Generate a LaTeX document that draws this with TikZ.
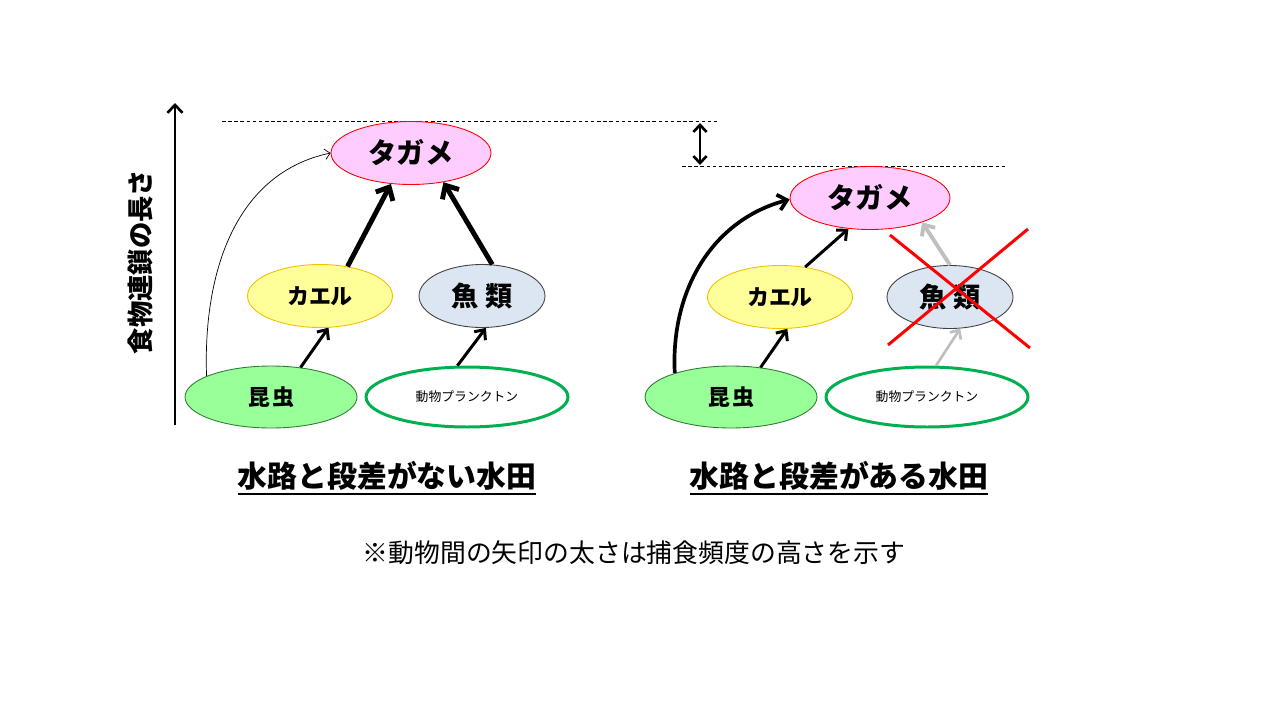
\documentclass[tikz,border=0pt]{standalone}
\usepackage{fontspec}
\setmainfont{Noto Sans CJK JP}
\usetikzlibrary{shapes.geometric,arrows.meta}
\definecolor{tpink}{HTML}{FFCCFF}
\definecolor{tred}{HTML}{FF0000}
\definecolor{kyel}{HTML}{FFFF99}
\definecolor{kedge}{HTML}{F0C000}
\definecolor{fblue}{HTML}{DCE6F2}
\definecolor{fedge}{HTML}{404040}
\definecolor{igreen}{HTML}{99FF99}
\definecolor{iedge}{HTML}{2E7D32}
\definecolor{pgreen}{HTML}{00B050}
\definecolor{ggray}{HTML}{BFBFBF}
\newcommand\thickul[1]{\setbox0\hbox{#1}\rlap{\raisebox{-4.5pt}{\rule{\wd0}{1.1pt}}}\box0}
\tikzset{
  base/.style={ellipse,inner sep=0pt,minimum height=1.26cm},
  tagame/.style={base,fill=tpink,draw=tred,line width=0.5pt,minimum width=3.2cm,font=\fontsize{16}{18}\selectfont\bfseries},
  kaeru/.style={base,fill=kyel,draw=kedge,line width=0.5pt,minimum width=2.9cm,font=\fontsize{12.5}{14}\selectfont\bfseries},
  fish/.style={base,fill=fblue,draw=fedge,line width=0.5pt,minimum width=2.52cm,font=\fontsize{15.5}{17}\selectfont\bfseries},
  insect/.style={base,fill=igreen,draw=iedge,line width=0.5pt,minimum width=3.44cm,minimum height=1.24cm,font=\fontsize{12.5}{14}\selectfont\bfseries},
  plankton/.style={base,fill=white,draw=pgreen,line width=1.7pt,minimum width=4.04cm,minimum height=1.2cm,font=\fontsize{7.3}{8}\selectfont},
  thickarr/.style={line width=2.8pt,-{Straight Barb[length=6pt,width=11pt]}},
  medarr/.style={line width=1.7pt,-{Straight Barb[length=4.5pt,width=8pt]}},
  grayarr/.style={draw=ggray,line width=2.2pt,-{Straight Barb[length=5pt,width=9pt]}},
  graymed/.style={draw=ggray,line width=1.5pt,-{Straight Barb[length=4pt,width=7.5pt]}},
  dashline/.style={line width=0.5pt,dash pattern=on 2pt off 1.5pt},
  title/.style={font=\fontsize{17}{20}\selectfont\bfseries},
}
\begin{document}
\begin{tikzpicture}[x=0.02cm,y=-0.02cm]
\useasboundingbox[fill=white] (0,0) rectangle (1280,720);
% axis
\coordinate (axb) at (175,425);
\coordinate (axt) at (175,103);
\draw[line width=1.5pt,-{Straight Barb[length=4.5pt,width=8.5pt]}] (axb) -- (axt);
\node[rotate=90,font=\fontsize{15}{17}\selectfont\bfseries] (ylab) at (140,262) {食物連鎖の長さ};
% dashed lines
\coordinate (d1a) at (222,121);
\coordinate (d1b) at (718,121);
\coordinate (d2a) at (682,166);
\coordinate (d2b) at (1006,166);
\draw[dashline] (d1a) -- (d1b);
\draw[dashline] (d2a) -- (d2b);
\coordinate (da) at (700,123);
\coordinate (db) at (700,165);
\draw[line width=1.5pt,{Straight Barb[length=4pt,width=7.5pt]}-{Straight Barb[length=4pt,width=7.5pt]}] (da) -- (db);
% left nodes
\node[tagame] (tL) at (411,153) {タガメ};
\node[kaeru] (kL) at (320,296) {カエル};
\node[fish] (fL) at (482,296) {魚\hspace{0.12cm}類};
\node[insect] (iL) at (271,397) {昆\hspace{0.04cm}虫};
\node[plankton] (pL) at (467,397) {動物プランクトン};
% right nodes
\node[tagame] (tR) at (870,198) {タガメ};
\node[kaeru] (kR) at (780,297) {カエル};
\node[fish] (fR) at (950,297) {魚\hspace{0.12cm}類};
\node[insect] (iR) at (731,397) {昆\hspace{0.04cm}虫};
\node[plankton] (pR) at (927,397) {動物プランクトン};
% left arrows
\draw[line width=0.4pt,-{Straight Barb[length=3pt,width=6pt]}] (iL.162) to[out=92,in=192] (tL.180);
\draw[thickarr] (kL.47) -- (tL.237);
\draw[thickarr] (fL.72) -- (tL.318);
\draw[medarr] (iL.45) -- (kL.285);
\draw[medarr] (pL.107) -- (fL.277);
% right arrows
\draw[line width=2.1pt,-{Straight Barb[length=5pt,width=9pt]}] (iR.157) to[out=93,in=195] (tR.181);
\draw[medarr] (kR.50) -- (tR.235);
\draw[medarr] (iR.45) -- (kR.283);
\draw[grayarr] (fR.90) -- (tR.335);
\draw[graymed] (pR.74) -- (fR.288);
% red cross
\draw[tred,line width=1.7pt] (890,235) -- (1030,348);
\draw[tred,line width=1.7pt] (1028,229) -- (888,345);
% titles
\node[title] (t1) at (387,478) {\thickul{水路と段差がない水田}};
\node[title] (t2) at (839,478) {\thickul{水路と段差がある水田}};
\node[font=\fontsize{14.7}{17}\selectfont] (note) at (634,553) {※動物間の矢印の太さは捕食頻度の高さを示す};
\end{tikzpicture}
\end{document}
